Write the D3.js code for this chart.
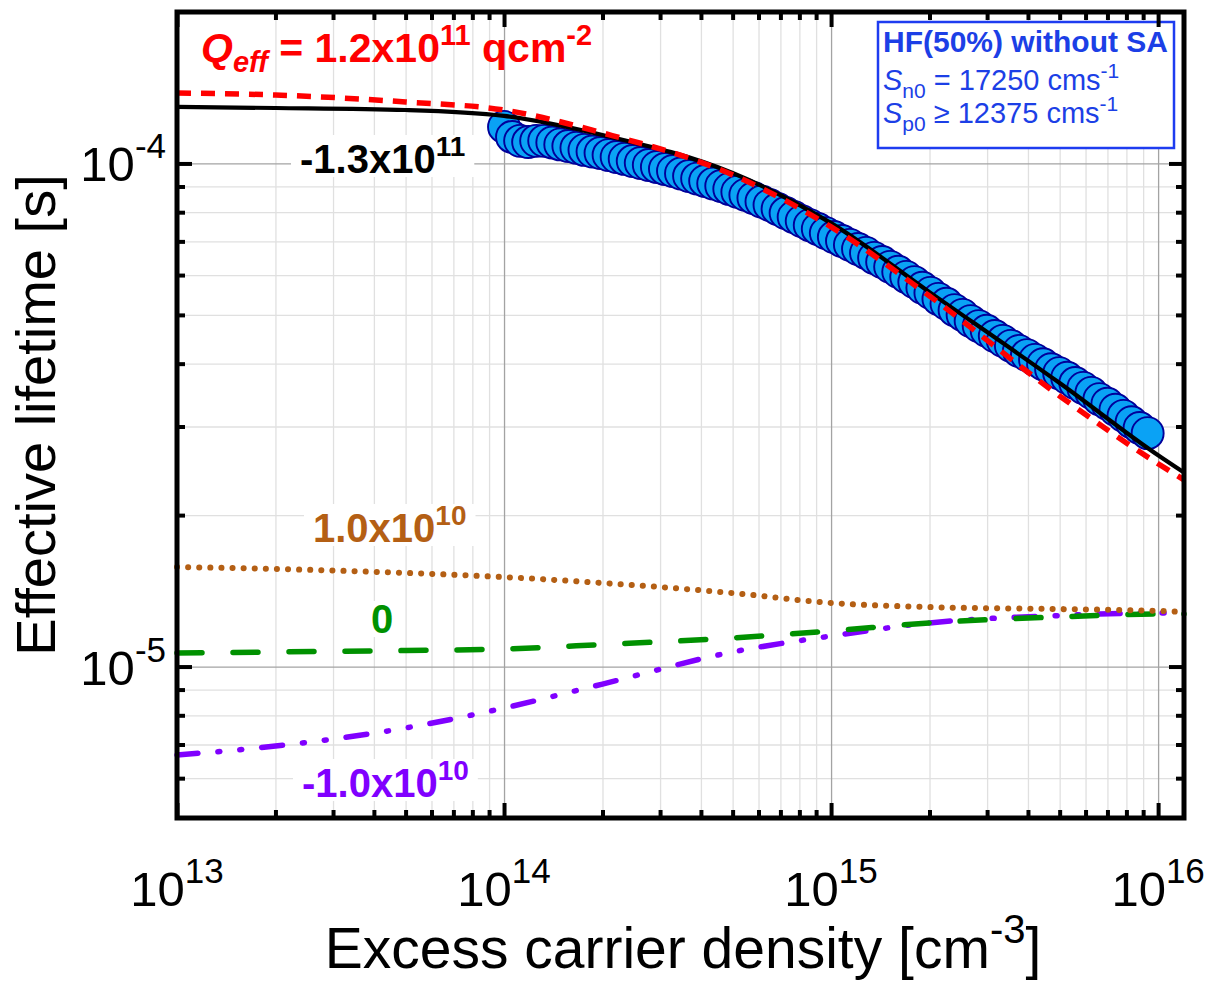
<!DOCTYPE html>
<html>
<head>
<meta charset="utf-8">
<script src="https://cdn.jsdelivr.net/npm/d3@7"></script>
<style>
body{margin:0;background:#fff}
svg{display:block}
text{font-family:"Liberation Sans",Arial,sans-serif}
</style>
</head>
<body>
<svg width="1210" height="988"></svg>
<script>
// measured data, HF(50%) without SA  (density in 1e14 cm^-3, lifetime in us)
var measDensity = [1.000,1.058,1.120,1.185,1.254,1.327,1.405,1.486,1.573,1.665,1.762,1.865,1.973,2.088,2.210,2.339,2.475,2.619,2.772,2.934,
	3.105,3.286,3.477,3.680,3.895,4.121,4.362,4.616,4.885,5.170,5.470,5.789,6.127,6.484,6.862,7.261,7.685,8.133,8.607,9.109,
	9.638,10.20,10.80,11.42,12.09,12.79,13.54,14.33,15.16,16.05,16.98,17.97,19.02,20.13,21.30,22.54,23.86,25.25,26.72,28.28,
	29.92,31.67,33.51,35.47,37.53,39.72,42.04,44.49,47.08,49.83,52.72,55.80,59.05,62.49,66.13,69.98,74.06,78.38,82.95,87.78,92.90];
var measLifetime = [118.2,112.9,110.9,110.3,110.9,110.9,110.1,109.1,108.3,107.4,106.4,105.6,104.9,103.9,103.0,102.1,101.1,100.2,99.3,98.4,
	97.5,96.6,95.5,94.4,93.3,92.3,91.2,90.2,89.0,87.8,86.6,85.4,84.0,82.7,81.2,79.7,78.3,76.8,75.4,74.1,
	72.7,71.4,70.1,68.9,67.6,66.4,64.9,63.7,62.3,60.9,59.5,58.1,56.6,55.3,53.8,52.6,51.1,50.0,48.6,47.5,
	46.5,45.4,44.4,43.4,42.4,41.6,40.7,39.9,39.0,38.3,37.5,36.6,35.8,35.0,34.0,33.3,32.4,31.5,30.6,29.8,29.1];

// simulated lifetime for each Qeff (s)
var simDensity = [1e13,2e13,5e13,1e14,2e14,5e14,1e15,2e15,5e15,1e16,1.2e16];
var tauQp12e11 = [1.380e-4,1.368e-4,1.325e-4,1.277e-4,1.150e-4,9.49e-5,7.48e-5,5.45e-5,3.45e-5,2.53e-5,2.35e-5];
var tauQm13e11 = [1.295e-4,1.289e-4,1.277e-4,1.243e-4,1.139e-4,9.57e-5,7.61e-5,5.55e-5,3.66e-5,2.63e-5,2.43e-5];
var tauQp1e10 = [1.577e-5,1.563e-5,1.535e-5,1.506e-5,1.466e-5,1.400e-5,1.338e-5,1.313e-5,1.301e-5,1.290e-5,1.284e-5];
var tauQ0 = [1.064e-5,1.069e-5,1.076e-5,1.084e-5,1.106e-5,1.140e-5,1.177e-5,1.221e-5,1.255e-5,1.272e-5,1.272e-5];
var tauQm1e10 = [6.67e-6,6.95e-6,7.55e-6,8.27e-6,9.23e-6,1.069e-5,1.150e-5,1.221e-5,1.263e-5,1.278e-5,1.278e-5];

var xMajor = [1e13,1e14,1e15,1e16];
var xExp = ['13','14','15','16'];
var yMajor = [1e-5,1e-4];
var yExp = ['-5','-4'];

var svg = d3.select('svg');
var pL = 177, pR = 1184, pT = 12, pB = 818;
var iw = pR-pL, ih = pB-pT;

var x = d3.scaleLog().domain([1e13,1.2e16]).range([pL,pR]);
var y = d3.scaleLog().domain([5e-6,2e-4]).range([pB,pT]);

var xMinor = [], yMinor = [];
[13,14,15].forEach(d => { for(var m=2;m<=9;m++) xMinor.push(m*Math.pow(10,d)); });
[6,7,8,9].forEach(m => yMinor.push(m*1e-6));
for(var m=2;m<=9;m++) yMinor.push(m*1e-5);

svg.append('rect').attr('width',1210).attr('height',988).attr('fill','#fff');

// grid
function grid(vals,col){
	svg.append('g').attr('transform',`translate(0,${pB})`)
		.call(d3.axisBottom(x).tickValues(vals).tickSize(-ih).tickFormat(''))
		.call(g => g.select('.domain').remove())
		.selectAll('line').attr('stroke',col).attr('stroke-width',1.3);
}
function gridH(vals,col){
	svg.append('g').attr('transform',`translate(${pL},0)`)
		.call(d3.axisLeft(y).tickValues(vals).tickSize(-iw).tickFormat(''))
		.call(g => g.select('.domain').remove())
		.selectAll('line').attr('stroke',col).attr('stroke-width',1.3);
}
grid(xMinor,'#e0e0e0');
gridH(yMinor,'#e0e0e0');
grid(xMajor,'#a3a3a3');
gridH(yMajor,'#a3a3a3');

// curve labels (white box behind, over the grid)
var lab = svg.append('g').attr('font-weight','bold').attr('font-size',40);
function curveLabel(tx,ty,col,main,sup){
	var t = lab.append('text').attr('x',tx).attr('y',ty).attr('fill',col);
	t.append('tspan').text(main);
	if(sup) t.append('tspan').attr('font-size',28).attr('dy',-17).text(sup);
	var b = t.node().getBBox();
	lab.insert('rect','text').attr('x',b.x-9).attr('y',b.y+4).attr('width',b.width+18).attr('height',b.height-8).attr('fill','#fff');
}
curveLabel(300,173,'#000','-1.3x10','11');
curveLabel(313,542,'#b45f14','1.0x10','10');
curveLabel(371,633,'#009100','0',null);
curveLabel(302,797,'#8000ff','-1.0x10','10');

// measured points
var meas = measDensity.map((d,i) => ({n:d*1e14, t:measLifetime[i]*1e-6}));
svg.append('g').selectAll('circle').data(meas).enter().append('circle')
	.attr('cx',d => x(d.n)).attr('cy',d => y(d.t)).attr('r',16)
	.attr('fill','#0aa2f5').attr('stroke','#00009a').attr('stroke-width',1.9);

// simulated curves
var line = d3.line().x(d => x(d[0])).y(d => y(d[1])).curve(d3.curveMonotoneX);
function curve(tau,col,w,dash,cap){
	svg.append('path').datum(simDensity.map((n,i) => [n,tau[i]]))
		.attr('d',line).attr('fill','none').attr('stroke',col).attr('stroke-width',w)
		.attr('stroke-dasharray',dash).attr('stroke-linecap',cap);
}
curve(tauQm1e10,'#8000ff',5.5,'21,20,2,20,2,20','round');
curve(tauQ0,'#009100',5.5,'25,31','round');
curve(tauQp1e10,'#b45f14',6,'0.1,11','round');
curve(tauQm13e11,'#000',4.2,null,'butt');
curve(tauQp12e11,'#ff0000',5.5,'14,10','butt');

// Qeff label
var q = svg.append('text').attr('x',201).attr('y',62).attr('fill','#ff0000').attr('font-weight','bold').attr('font-size',41);
q.append('tspan').attr('font-style','italic').text('Q');
q.append('tspan').attr('font-style','italic').attr('font-size',29).attr('dy',10).text('eff');
q.append('tspan').attr('dy',-10).text(' = 1.2x10');
q.append('tspan').attr('font-size',29).attr('dy',-17).text('11');
q.append('tspan').attr('dy',17).text(' qcm');
q.append('tspan').attr('font-size',29).attr('dy',-17).text('-2');

// legend box
var lg = svg.append('g');
lg.append('rect').attr('x',878).attr('y',22).attr('width',296).attr('height',126)
	.attr('fill','#fff').attr('stroke','#1e3cf0').attr('stroke-width',2.5);
lg.append('text').attr('x',883).attr('y',52).attr('fill','#1c3fe6').attr('font-weight','bold').attr('font-size',30)
	.text('HF(50%) without SA');
function sLine(ty,sub,rest){
	var t = lg.append('text').attr('x',883).attr('y',ty).attr('fill','#1c3fe6').attr('font-size',29);
	t.append('tspan').attr('font-style','italic').text('S');
	t.append('tspan').attr('font-size',21).attr('dy',8).text(sub);
	t.append('tspan').attr('dy',-8).text(rest);
	t.append('tspan').attr('font-size',21).attr('dy',-12).text('-1');
}
sLine(90,'n0',' = 17250 cms');
sLine(123,'p0',' \u2265 12375 cms');

// frame and ticks
svg.append('rect').attr('x',pL).attr('y',pT).attr('width',iw).attr('height',ih)
	.attr('fill','none').attr('stroke','#000').attr('stroke-width',5);
function ticks(axisFn,scale,vals,len,tr){
	svg.append('g').attr('transform',tr)
		.call(axisFn(scale).tickValues(vals).tickSize(len).tickFormat(''))
		.call(g => g.select('.domain').remove())
		.selectAll('line').attr('stroke','#000').attr('stroke-width',4);
}
ticks(d3.axisBottom,x,xMinor,-8,`translate(0,${pB})`);
ticks(d3.axisBottom,x,xMajor,-15,`translate(0,${pB})`);
ticks(d3.axisTop,x,xMinor,-8,`translate(0,${pT})`);
ticks(d3.axisTop,x,xMajor,-15,`translate(0,${pT})`);
ticks(d3.axisLeft,y,yMinor,-8,`translate(${pL},0)`);
ticks(d3.axisLeft,y,yMajor,-15,`translate(${pL},0)`);
ticks(d3.axisRight,y,yMinor,-8,`translate(${pR},0)`);
ticks(d3.axisRight,y,yMajor,-15,`translate(${pR},0)`);

// tick labels
xMajor.forEach((v,i) => {
	var t = svg.append('text').attr('x',x(v)).attr('y',906).attr('text-anchor','middle').attr('font-size',49);
	t.append('tspan').text('10');
	t.append('tspan').attr('font-size',35).attr('dy',-23).text(xExp[i]);
});
yMajor.forEach((v,i) => {
	var t = svg.append('text').attr('x',166).attr('y',y(v)+18).attr('text-anchor','end').attr('font-size',49);
	t.append('tspan').text('10');
	t.append('tspan').attr('font-size',35).attr('dy',-23).text(yExp[i]);
});

// axis titles
var xt = svg.append('text').attr('x',683).attr('y',968).attr('text-anchor','middle').attr('font-size',57);
xt.append('tspan').text('Excess carrier density [cm');
xt.append('tspan').attr('font-size',40).attr('dy',-25).text('-3');
xt.append('tspan').attr('dy',25).text(']');
svg.append('text').attr('transform','translate(55,415) rotate(-90)').attr('text-anchor','middle').attr('font-size',56)
	.text('Effective lifetime [s]');
</script>
</body>
</html>
